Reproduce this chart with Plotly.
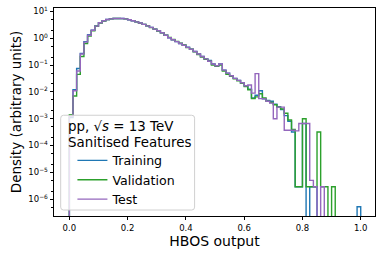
import plotly.graph_objects as go

# ---- data ----
bin_lo = 0.0
bin_hi = 1.0
n_bins = 80

training = [
    1.1e-3, 1.2e-2, 7.5e-2, 0.27, 0.75, 1.35, 2.0, 2.9, 3.8, 4.5,
    5.0, 5.3, 5.45, 5.5, 5.45, 5.3, 4.9, 4.5, 4.1, 3.7,
    3.3, 2.9, 2.55, 2.2, 1.9, 1.6, 1.3, 1.05, 0.88, 0.75,
    0.64, 0.55, 0.47, 0.39, 0.32, 0.26, 0.21, 0.17, 0.15, 0.11,
    0.095, 0.11, 0.065, 0.05, 0.04, 0.032, 0.027, 0.022, 0.017, 0.0125,
    0.006, 0.0075, 0.011, 0.0055, 0.0048, 0.0045, 0.0035, 0.0028, 0.0022, 0.0013,
    0.0008, 3.2e-4, 2.9e-6, 2.9e-6, 6.6e-4, 0, 2.9e-6, 2.9e-6, 0, 0,
    0, 0, 0, 0, 0, 0, 0, 0, 0, 5.2e-7,
]
validation = [
    1.4e-3, 7.0e-3, 4.5e-2, 0.21, 0.63, 1.2, 1.9, 2.8, 3.7, 4.4,
    4.95, 5.3, 5.45, 5.5, 5.4, 5.3, 4.95, 4.55, 4.1, 3.65,
    3.3, 2.95, 2.5, 2.2, 1.85, 1.6, 1.3, 1.08, 0.9, 0.77,
    0.66, 0.56, 0.45, 0.39, 0.31, 0.25, 0.20, 0.165, 0.14, 0.10,
    0.09, 0.10, 0.06, 0.045, 0.038, 0.031, 0.026, 0.021, 0.016, 0.012,
    0.0056, 0.0065, 0.0085, 0.006, 0.0045, 0.004, 0.0033, 0.0027, 0.0023, 0.0016,
    0.0009, 4.0e-4, 2.9e-6, 2.9e-6, 1.0e-3, 2.9e-6, 2.9e-6, 2.9e-6, 3.2e-4, 2.9e-6,
    2.9e-6, 0, 2.9e-6, 0, 0, 0, 0, 0, 0, 0,
]
test = [
    1.2e-3, 1.1e-2, 6.0e-2, 0.26, 0.72, 1.3, 2.0, 2.85, 3.8, 4.5,
    5.0, 5.3, 5.45, 5.5, 5.45, 5.3, 4.9, 4.5, 4.1, 3.7,
    3.3, 2.9, 2.55, 2.2, 1.9, 1.6, 1.3, 1.05, 0.88, 0.75,
    0.64, 0.55, 0.46, 0.39, 0.32, 0.26, 0.21, 0.17, 0.14, 0.11,
    0.095, 0.11, 0.065, 0.05, 0.04, 0.032, 0.027, 0.022, 0.017, 0.018,
    0.009, 0.048, 0.0056, 0.0055, 0.0045, 0.0038, 0.001, 0.0027, 0.0027, 3.7e-4,
    3.7e-4, 3.7e-4, 3.5e-4, 6.6e-4, 6.6e-4, 6.6e-4, 5.0e-6, 2.9e-6, 0, 2.9e-6,
    0, 0, 0, 0, 0, 0, 0, 0, 0, 0,
]

series = [
    ("Training", training, "#1f77b4"),
    ("Validation", validation, "#2ca02c"),
    ("Test", test, "#9467bd"),
]

legend_title_lines = ["pp, √<i>s</i> = 13 TeV", "Sanitised Features"]

x_ticks = [0.0, 0.2, 0.4, 0.6, 0.8, 1.0]
x_tick_labels = ["0.0", "0.2", "0.4", "0.6", "0.8", "1.0"]
y_exponents = [-6, -5, -4, -3, -2, -1, 0, 1]

FLOOR = 1e-12  # empty bins drop below the visible axis range (like a step hist)

width = (bin_hi - bin_lo) / n_bins
edges = [bin_lo + i * width for i in range(n_bins + 1)]

fig = go.Figure()
for name, vals, color in series:
    xs = [edges[0]] + edges[:n_bins] + [edges[n_bins]]
    ys = [FLOOR] + [v if v > 0 else FLOOR for v in vals] + [FLOOR]
    fig.add_trace(go.Scatter(
        x=xs, y=ys, mode="lines", name=name,
        line=dict(color=color, width=1.4, shape="hv"),
    ))

y_tickvals = [10.0 ** e for e in y_exponents]
y_ticktext = ["10<sup>%s</sup>" % (str(e).replace("-", "\u2212")) for e in y_exponents]

font_family = "DejaVu Sans"

# legend frame (semi-transparent, rounded) in plot-area fractions
bx0, bx1, by0, by1 = 0.0208, 0.438, 0.0288, 0.4844
rx, ry = 0.009, 0.014
frame_path = (
    f"M {bx0+rx},{by0} L {bx1-rx},{by0} Q {bx1},{by0} {bx1},{by0+ry} "
    f"L {bx1},{by1-ry} Q {bx1},{by1} {bx1-rx},{by1} "
    f"L {bx0+rx},{by1} Q {bx0},{by1} {bx0},{by1-ry} "
    f"L {bx0},{by0+ry} Q {bx0},{by0} {bx0+rx},{by0} Z"
)
fig.add_shape(type="path", path=frame_path, xref="paper", yref="paper",
              fillcolor="rgba(255,255,255,0.8)",
              line=dict(color="#d0d0d0", width=1), layer="above")

title_y = [0.428, 0.353]
for txt, ty in zip(legend_title_lines, title_y):
    fig.add_annotation(text=txt, xref="paper", yref="paper", x=0.038, y=ty,
                       xanchor="left", yanchor="middle", showarrow=False,
                       font=dict(size=13.4, family=font_family, color="black"))

fig.update_layout(
    width=382, height=257,
    margin=dict(l=54, r=7, t=8, b=41, autoexpand=False),
    paper_bgcolor="white", plot_bgcolor="white",
    font=dict(family=font_family, color="black"),
    showlegend=True,
    legend=dict(
        x=0.02, y=0.338, xanchor="left", yanchor="top",
        bgcolor="rgba(0,0,0,0)", borderwidth=0,
        font=dict(size=12.6, family=font_family),
        tracegroupgap=0,
        indentation=12,
    ),
)
fig.update_xaxes(
    range=[-0.0527, 1.049], automargin=False,
    tickvals=x_ticks, ticktext=x_tick_labels,
    ticks="outside", ticklen=3.5, tickwidth=0.8, tickcolor="black",
    tickfont=dict(size=8.5, family=font_family),
    showline=True, linecolor="black", linewidth=0.8, mirror=True,
    showgrid=False, zeroline=False,
    title=dict(text="HBOS output", font=dict(size=14, family=font_family), standoff=4),
)
fig.update_yaxes(
    type="log", range=[-6.63, 1.13], automargin=False,
    tickvals=y_tickvals, ticktext=y_ticktext,
    ticks="outside", ticklen=3.5, tickwidth=0.8, tickcolor="black",
    minor=dict(ticks="outside", ticklen=2, tickwidth=0.6, tickcolor="black"),
    tickfont=dict(size=8.5, family=font_family),
    showline=True, linecolor="black", linewidth=0.8, mirror=True,
    showgrid=False, zeroline=False,
    title=dict(text="Density (arbitrary units)", font=dict(size=13.5, family=font_family), standoff=3),
)

fig.write_html("out.html", config={"displayModeBar": False},
               post_script="document.body.style.margin='0';")
